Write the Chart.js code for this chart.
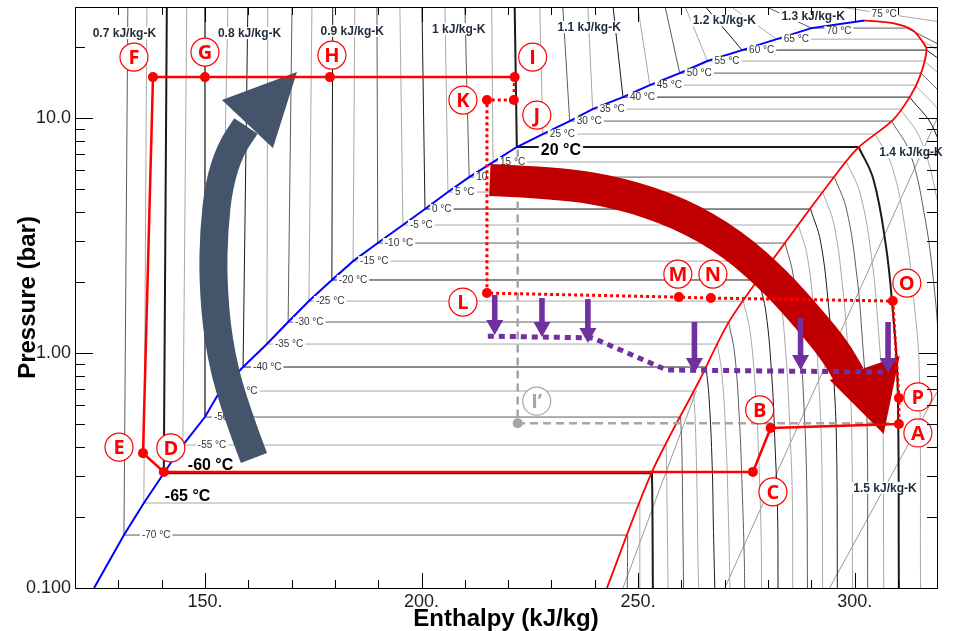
<!DOCTYPE html>
<html>
<head>
<meta charset="utf-8">
<script src="https://cdn.jsdelivr.net/npm/chart.js@4.4.1/dist/chart.umd.min.js"></script>
<style>
  html, body { margin: 0; padding: 0; background: #fff; }
  #wrap { width: 953px; height: 631px; }
</style>
</head>
<body>
<div id="wrap"><canvas id="ph" width="953" height="631"></canvas></div>
<script>
// ========================
// DATA
// ========================
const satT   = [-70,-65,-60,-55,-50,-45,-40,-35,-30,-25,-20,-15,-10,-5,0,5,10,15,20,25,30,35,40,45,50,55,60,65,70];
const satP   = [0.168,0.230,0.308,0.406,0.534,0.689,0.872,1.092,1.355,1.664,2.046,2.461,2.938,3.506,4.101,4.844,5.61,6.50,7.53,8.55,9.71,10.92,12.28,13.81,15.54,17.49,19.47,21.67,24.15];
const liqH   = [131.3,135.9,140.5,144.9,150.0,153.5,158.8,164.3,169.2,174.0,179.3,184.2,189.9,195.7,200.8,206.1,211.0,216.5,222.0,228.0,234.2,239.5,246.5,252.7,259.6,266.0,274.0,282.0,290.0];
const liqTopH = [132.2,136.6,141.2,145.8,150.0,155.3,159.9,164.5,170.1,174.7,179.5,184.6,189.7,195.0,200.1,205.4,210.0,216.2,221.5,227.3,232.6,238.4,244.2,249.9,256.2,260.8,265.4,271.2,279.2];
const vapH   = [247.6,250.4,253.2,256.5,259.8,262.8,265.7,268.3,270.9,274.3,277.8,280.9,283.9,287.0,289.8,292.6,295.3,298.1,300.9,304.7,308.5,310.6,312.7,314.0,315.3,316.0,316.6,315.0,312.0];

// superheated part of each isotherm, [h, P] after the saturated vapour point
const vapTail = [
  [[247.5,0.1]],
  [[250.4,0.1]],
  [[253.3,0.225],[253.4,0.1]],
  [[256.6,0.296],[256.8,0.154],[256.9,0.1]],
  [[260.1,0.39],[260.3,0.203],[260.5,0.1]],
  [[263.2,0.503],[263.6,0.262],[263.8,0.138],[264.0,0.1]],
  [[266.4,0.636],[267.1,0.332],[267.4,0.174],[267.7,0.1]],
  [[269.4,0.797],[270.3,0.415],[270.8,0.218],[271.2,0.1]],
  [[272.3,0.989],[273.4,0.515],[274.0,0.271],[274.5,0.136],[274.6,0.1]],
  [[275.9,1.215],[277.2,0.633],[277.9,0.333],[278.4,0.166],[278.5,0.1]],
  [[279.5,1.493],[280.9,0.778],[281.6,0.409],[282.2,0.205],[282.3,0.1]],
  [[282.7,1.796],[284.2,0.936],[285.0,0.492],[285.6,0.246],[285.7,0.1]],
  [[285.8,2.144],[287.4,1.117],[288.3,0.588],[288.9,0.294],[289.1,0.1]],
  [[289.1,2.559],[290.8,1.333],[291.8,0.701],[292.4,0.351],[292.6,0.1]],
  [[292.1,2.993],[294.0,1.559],[295.1,0.820],[295.8,0.410],[296.0,0.1]],
  [[295.2,3.536],[297.3,1.842],[298.5,0.969],[299.3,0.484],[299.5,0.1]],
  [[298.1,4.095],[300.5,2.133],[301.8,1.122],[302.8,0.561],[303.0,0.1]],
  [[301.3,4.745],[304.0,2.471],[305.4,1.30],[306.4,0.65],[306.7,0.1]],
  [[304.3,5.50],[307.2,2.863],[308.8,1.506],[309.9,0.753],[310.2,0.1]],
  [[308.6,6.24],[311.8,3.25],[313.6,1.71],[314.9,0.855],[315.2,0.1]],
  [[312.8,7.09],[316.3,3.69],[318.3,1.94],[319.7,0.971]],
  [[315.4,7.97],[319.4,4.15],[321.7,2.18]],
  [[318.3,8.96],[322.9,4.67]],
  [[320.3,10.08],[325.6,5.25]],
  [[322.7,11.34]],
  [[324.9,12.77]],
  [[327.0,14.2]],
  [[327.2,15.8]],
  [[326.8,17.6]]
];

const critPoint = [302.3, 26.0];
const liqFoot   = [124.4, 0.1];
const vapLineH  = [302.3,308.8,313.4,315.7,316.6,315.0,312.7,308.8,300.7,294.7,282.7,271.2,264.2,253.2,242.8];
const vapLineP  = [26.0,25.36,23.67,21.06,19.47,14.94,12.28,9.8,7.45,5.45,2.743,1.381,0.768,0.312,0.1];

const iso75H = [295.0, 319.5];
const iso75P = [30.0, 25.7];

// isentropes in the vapour region
const sLines = [
  [[246.5,0.1],[263.5,0.696]],
  [[270.0,0.1],[319.6,10.5]],
  [[294.2,0.1],[319.6,0.715]]
];
const sLabelText = ['0.7 kJ/kg-K','0.8 kJ/kg-K','0.9 kJ/kg-K','1 kJ/kg-K','1.1 kJ/kg-K','1.2 kJ/kg-K','1.3 kJ/kg-K','1.4 kJ/kg-K','1.5 kJ/kg-K'];
const sLabelH = [131.4,160.3,184.0,208.6,238.7,269.9,290.4,313.0,307.0];
const sLabelP = [23.0,23.0,23.5,23.9,24.4,26.1,27.2,7.17,0.267];

// cycle states
const cycleNames = ['A','B','C','D','E','F','G','H','I','J','K','L','M','N','O','P'];
const cycleH = [310.2,280.6,276.5,140.5,135.7,138.0,150.0,178.85,221.5,221.3,215.1,215.1,259.4,266.8,308.8,310.2];
const cycleP = [0.499,0.480,0.312,0.312,0.375,14.94,14.94,14.94,14.94,11.93,11.93,1.80,1.73,1.714,1.664,0.644];
const solidPath  = ['A','B','C','D','E','F','G','H','I'];
const dottedPath = ['I','J','K','L','M','N','O','P','A'];

const iPrimeH = [222.2, 222.2, 310.2];
const iPrimeP = [7.35, 0.503, 0.503];

const purpleH = [215.3, 239.5, 256.6, 307.6];
const purpleP = [1.18, 1.16, 0.847, 0.83];
const arrowH    = [216.9, 227.8, 238.4, 263.0, 287.5, 307.7];
const arrowTopP = [1.766, 1.714, 1.697, 1.355, 1.409, 1.355];
const arrowTipP = [1.193, 1.170, 1.103, 0.822, 0.847, 0.822];

// big curved arrows: centre line + head
const slateH = [161.31,156.23,153.0,151.85,152.08,153.23,155.77,159.46];
const slateP = [0.3573,0.631,1.136,2.045,3.337,5.187,7.308,9.247];
const slateHead = [[171.23,15.69],[153.92,11.93],[165.69,7.456]];
const redH = [215.77,231.92,245.77,259.62,271.85,282.0,289.62,295.31,298.85];
const redP = [5.447,5.289,4.797,3.95,2.92,1.99,1.382,1.030,0.798];
const redHead = [[306.69,0.452],[294.23,0.767],[310.38,0.971]];

// ========================
// STYLE
// ========================
const P_TOP = 30;
const RED = '#ff0000';
const PURPLE = '#7030a0';
const labelOffsets = {A:[19,9],B:[-11,-18],C:[20,20],D:[7,-24],E:[-24,-6],F:[-19,-20],G:[0,-25],H:[2,-22],
  I:[18,-20],J:[23,15],K:[-24,0],L:[-24,9],M:[-1,-23],N:[2,-24],O:[14,-18],P:[19,-1]};
const tempLabelGap = {'-70': 18, '-55': 15, '-50': 9, '-45': 9, '-40': 10, '-35': 8};

function isoColor(t) {
  if (t % 20 === 0) return '#1a1a1a';
  if (t % 10 === 0) return '#5c5c5c';
  return '#a8a8a8';
}
const pt = (h, p) => ({x: h, y: p});
const byName = n => pt(cycleH[cycleNames.indexOf(n)], cycleP[cycleNames.indexOf(n)]);

// ----------------- DATASETS -----------------
const datasets = [];
satT.forEach((t, i) => {
  const bold = (t === 20 || t === -60);
  datasets.push({
    data: [pt(liqTopH[i], P_TOP), pt(liqH[i], satP[i]), pt(vapH[i], satP[i])],
    borderColor: isoColor(t), borderWidth: bold ? 2 : 1, order: 10
  });
  datasets.push({
    data: [pt(vapH[i], satP[i])].concat(vapTail[i].map(q => pt(q[0], q[1]))),
    borderColor: isoColor(t), borderWidth: bold ? 2 : 1, tension: 0.4, order: 10
  });
});
datasets.push({ data: iso75H.map((h, i) => pt(h, iso75P[i])), borderColor: '#a8a8a8', borderWidth: 1, order: 10 });
sLines.forEach(s => datasets.push({ data: s.map(q => pt(q[0], q[1])), borderColor: '#9a9a9a', borderWidth: 1, order: 10 }));

// saturation dome
datasets.push({
  data: [pt(liqFoot[0], liqFoot[1])].concat(liqH.map((h, i) => pt(h, satP[i])), [pt(critPoint[0], critPoint[1])]),
  borderColor: '#0000ff', borderWidth: 2, order: 8
});
datasets.push({ data: vapLineH.map((h, i) => pt(h, vapLineP[i])), borderColor: RED, borderWidth: 1.8, tension: 0.3, order: 8 });

// gray I' path
datasets.push({ data: iPrimeH.map((h, i) => pt(h, iPrimeP[i])), borderColor: '#a6a6a6', borderWidth: 2.5, borderDash: [8, 5], order: 7 });
datasets.push({ data: [pt(iPrimeH[1], iPrimeP[1])], showLine: false, pointRadius: 5, pointBackgroundColor: '#a6a6a6', pointBorderWidth: 0, order: 7 });

// layer marker for the big arrows
datasets.push({ data: [], arrowLayer: true, order: 6 });

datasets.push({ data: purpleH.map((h, i) => pt(h, purpleP[i])), borderColor: PURPLE, borderWidth: 5, borderDash: [6, 5], order: 4 });
datasets.push({ data: solidPath.map(byName), borderColor: RED, borderWidth: 2.5, order: 3 });
datasets.push({ data: dottedPath.map(byName), borderColor: RED, borderWidth: 3, borderDash: [3, 3], order: 3 });
datasets.push({ data: cycleNames.map(byName), showLine: false, pointRadius: 5, pointBackgroundColor: RED, pointBorderWidth: 0, order: 1 });

// ----------------- DRAW HELPERS -----------------
function px(chart, h, p) {
  return [chart.scales.x.getPixelForValue(h), chart.scales.y.getPixelForValue(p)];
}

function labelBox(ctx, text, x, y, font, color, align, bg) {
  ctx.font = font;
  ctx.textAlign = align;
  ctx.textBaseline = 'middle';
  const w = ctx.measureText(text).width;
  if (bg) {
    const x0 = align === 'center' ? x - w / 2 : x;
    ctx.fillStyle = '#fff';
    ctx.fillRect(x0 - 2, y - bg / 2, w + 4, bg);
  }
  ctx.fillStyle = color;
  ctx.fillText(text, x, y + 0.5);
}

function drawTempLabels(chart) {
  const ctx = chart.ctx;
  const small = "10px 'Liberation Sans', Arial";
  const big = "bold 16px 'Liberation Sans', Arial";
  satT.forEach((t, i) => {
    const [x, y] = px(chart, liqH[i], satP[i]);
    const txt = t + ' °C';
    if (t === 20) labelBox(ctx, txt, x + 24, y + 3, big, '#000', 'left', 16);
    else if (t === -60) labelBox(ctx, txt, x + 24, y - 8, big, '#000', 'left', 0);
    else if (t === -65) labelBox(ctx, txt, x + 21, y - 7, big, '#000', 'left', 0);
    else if (t === 70) labelBox(ctx, txt, x + 15, y + 3, small, '#333', 'left', 10);
    else labelBox(ctx, txt, x + (tempLabelGap[t] || 7), y, small, '#333', 'left', 10);
  });
  const [x75, y75] = px(chart, 303.9, 27.7);
  labelBox(ctx, '75 °C', x75, y75, small, '#333', 'left', 10);
}

function drawEntropyLabels(chart) {
  const ctx = chart.ctx;
  sLabelText.forEach((s, i) => {
    const [x, y] = px(chart, sLabelH[i], sLabelP[i]);
    labelBox(ctx, s, x, y, "bold 12px 'Liberation Sans', Arial", '#1f2b3a', 'center', 12);
  });
}

function bigArrow(chart, hs, ps, head, width, color) {
  const ctx = chart.ctx;
  const pts = hs.map((h, i) => px(chart, h, ps[i]));
  ctx.save();
  ctx.strokeStyle = color;
  ctx.lineWidth = width;
  ctx.lineCap = 'butt';
  ctx.lineJoin = 'round';
  ctx.beginPath();
  ctx.moveTo(pts[0][0], pts[0][1]);
  for (let i = 1; i < pts.length - 1; i++) {
    const mx = (pts[i][0] + pts[i + 1][0]) / 2, my = (pts[i][1] + pts[i + 1][1]) / 2;
    ctx.quadraticCurveTo(pts[i][0], pts[i][1], mx, my);
  }
  const last = pts[pts.length - 1];
  ctx.lineTo(last[0], last[1]);
  ctx.stroke();
  const hp = head.map(q => px(chart, q[0], q[1]));
  ctx.fillStyle = color;
  ctx.beginPath();
  ctx.moveTo(hp[0][0], hp[0][1]);
  ctx.lineTo(hp[1][0], hp[1][1]);
  ctx.lineTo(hp[2][0], hp[2][1]);
  ctx.closePath();
  ctx.fill();
  ctx.restore();
}

function purpleArrows(chart) {
  const ctx = chart.ctx;
  ctx.save();
  ctx.fillStyle = PURPLE;
  arrowH.forEach((h, i) => {
    const [x, yTop] = px(chart, h, arrowTopP[i]);
    const yTip = chart.scales.y.getPixelForValue(arrowTipP[i]);
    ctx.fillRect(x - 2.8, yTop, 5.6, (yTip - 14) - yTop + 1);
    ctx.beginPath();
    ctx.moveTo(x - 8.5, yTip - 15);
    ctx.lineTo(x + 8.5, yTip - 15);
    ctx.lineTo(x, yTip);
    ctx.closePath();
    ctx.fill();
  });
  ctx.restore();
}

function badge(ctx, x, y, txt, col) {
  ctx.beginPath();
  ctx.arc(x, y, 14, 0, Math.PI * 2);
  ctx.fillStyle = '#fff';
  ctx.fill();
  ctx.lineWidth = 1.2;
  ctx.strokeStyle = col;
  ctx.stroke();
  ctx.fillStyle = col;
  ctx.font = "bold 20px 'Open Sans', 'Liberation Sans', sans-serif";
  ctx.textAlign = 'center';
  ctx.textBaseline = 'middle';
  ctx.fillText(txt, x, y + 1);
}

const overlay = {
  id: 'overlay',
  beforeDatasetDraw(chart, args) {
    const ds = chart.data.datasets[args.index];
    if (!ds.arrowLayer) return;
    chart.ctx.save();
    drawTempLabels(chart);
    drawEntropyLabels(chart);
    chart.ctx.restore();
    bigArrow(chart, slateH, slateP, slateHead, 28, '#44546a');
    bigArrow(chart, redH, redP, redHead, 32, '#c00000');
  },
  afterDatasetsDraw(chart) {
    const ctx = chart.ctx;
    purpleArrows(chart);
    ctx.save();
    cycleNames.forEach((n, i) => {
      const [x, y] = px(chart, cycleH[i], cycleP[i]);
      const o = labelOffsets[n];
      badge(ctx, x + o[0], y + o[1], n, RED);
    });
    const [xi, yi] = px(chart, iPrimeH[1], iPrimeP[1]);
    badge(ctx, xi + 19, yi - 22, 'I’', '#a6a6a6');
    ctx.restore();
  },
  afterDraw(chart) {
    // frame and inward ticks on all four sides
    const ctx = chart.ctx, a = chart.chartArea;
    const xs = chart.scales.x, ys = chart.scales.y;
    ctx.save();
    ctx.strokeStyle = '#000';
    ctx.lineWidth = 1;
    ctx.strokeRect(Math.round(a.left) + 0.5, Math.round(a.top) + 0.5, Math.round(a.right - a.left), Math.round(a.bottom - a.top));
    ctx.beginPath();
    for (let h = 130; h <= 310; h += 10) {
      const x = Math.round(xs.getPixelForValue(h)) + 0.5;
      const len = h % 50 === 0 ? 15 : 8;
      ctx.moveTo(x, a.bottom); ctx.lineTo(x, a.bottom - len);
      ctx.moveTo(x, a.top); ctx.lineTo(x, a.top + len);
    }
    [0.1, 1, 10].forEach(dec => {
      for (let m = 1; m <= 9; m++) {
        const v = dec * m;
        if (v > ys.max) continue;
        const y = Math.round(ys.getPixelForValue(v)) + 0.5;
        const len = m === 1 ? 18 : 10;
        ctx.moveTo(a.left, y); ctx.lineTo(a.left + len, y);
        ctx.moveTo(a.right, y); ctx.lineTo(a.right - len, y);
      }
    });
    ctx.stroke();
    ctx.restore();
  }
};

// ----------------- CHART -----------------
Chart.defaults.font.family = "'Liberation Sans', Arial, sans-serif";
Chart.defaults.color = '#111';

const near = (a, b) => Math.abs(a - b) < 1e-9 * Math.max(1, b);

const chart = new Chart(document.getElementById('ph'), {
  type: 'line',
  data: { datasets },
  options: {
    responsive: false,
    animation: false,
    devicePixelRatio: 1,
    layout: { padding: { left: 0, top: 7, right: 16, bottom: 0 } },
    elements: {
      point: { radius: 0, hoverRadius: 0 },
      line: { fill: false, borderCapStyle: 'butt' }
    },
    plugins: { legend: { display: false }, tooltip: { enabled: false } },
    events: [],
    scales: {
      x: {
        type: 'linear', min: 120, max: 319,
        grid: { display: false, drawTicks: false },
        border: { display: false },
        ticks: {
          stepSize: 10, autoSkip: false, maxRotation: 0, padding: 3,
          font: { size: 18 }, color: '#222',
          callback: v => (v % 50 === 0 ? v + '.' : '')
        },
        title: { display: true, text: 'Enthalpy (kJ/kg)', font: { size: 24, weight: 'bold', lineHeight: 1 }, color: '#000', padding: { top: 0, bottom: 0 } },
        afterFit: s => { s.height = 43; s.paddingLeft = 0; s.paddingRight = 0; }
      },
      y: {
        type: 'logarithmic', min: 0.1, max: 29.7,
        grid: { display: false, drawTicks: false },
        border: { display: false },
        ticks: {
          autoSkip: false, padding: 4, font: { size: 18 }, color: '#222',
          callback: v => near(v, 0.1) ? '0.100' : near(v, 1) ? '1.00' : near(v, 10) ? '10.0' : ''
        },
        title: { display: true, text: 'Pressure (bar)', font: { size: 24, weight: 'bold', lineHeight: 1 }, color: '#000', padding: { top: 16, bottom: 0 } },
        afterFit: s => { s.width = 75; s.paddingTop = 0; s.paddingBottom = 0; }
      }
    }
  },
  plugins: [overlay]
});
</script>
</body>
</html>
